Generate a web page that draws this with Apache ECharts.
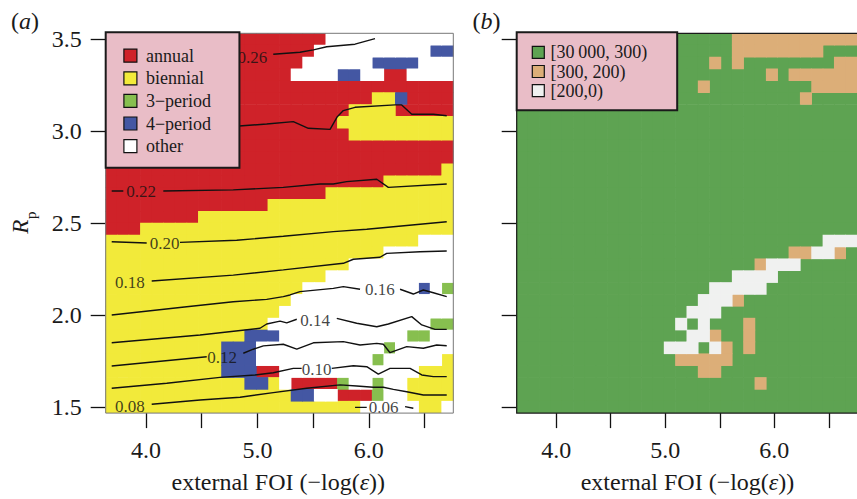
<!DOCTYPE html>
<html>
<head>
<meta charset="utf-8">
<script src="https://cdn.jsdelivr.net/npm/echarts@6/dist/echarts.min.js"></script>
<style>
html,body{margin:0;padding:0;background:#fff;}
#chart{width:857px;height:499px;}
</style>
</head>
<body>
<div id="chart"></div>
<script>
// ---------------- DATA ----------------
// grid cell centres (external FOI, columns) and (R_p, rows bottom -> top)
const xCenters = [3.690,3.794,3.898,4.002,4.106,4.210,4.314,4.418,4.522,4.626,
                  4.730,4.834,4.938,5.042,5.146,5.250,5.354,5.458,5.562,5.666,
                  5.770,5.874,5.978,6.082,6.186,6.290,6.394,6.498,6.602,6.706];
const yCenters = [1.5000,1.5645,1.6290,1.6935,1.7581,1.8226,1.8871,1.9516,2.0161,2.0806,
                  2.1452,2.2097,2.2742,2.3387,2.4032,2.4677,2.5323,2.5968,2.6613,2.7258,
                  2.7903,2.8548,2.9194,2.9839,3.0484,3.1129,3.1774,3.2419,3.3065,3.3710,
                  3.4355,3.5000];

const xTickValues = [4.0, 4.5, 5.0, 5.5, 6.0, 6.5];
const xLabelValues = [4.0, 5.0, 6.0];
const yTickValues = [1.5, 2.0, 2.5, 3.0, 3.5];

// panel (a): periodicity classes
const periodCategories = ['annual', 'biennial', '3\u2212period', '4\u2212period', 'other'];
const periodCodes = ['R', 'Y', 'G', 'B', 'W'];
// rows listed top (R_p = 3.5) to bottom (R_p = 1.5), run-length: code + count
const periodRows = [
  'R19 W11', 'R18 W10 B2', 'R17 W6 B4 W3', 'R16 W4 B2 W2 R2 W4', 'R30',
  'R23 Y2 B1 R4', 'R21 Y4 R5', 'R20 Y10', 'R21 Y9', 'R30',
  'R30', 'R29 Y1', 'R24 Y6', 'R19 Y11', 'R14 Y16',
  'R8 Y22', 'R3 Y27', 'Y27 W3', 'Y24 W6', 'Y21 W9',
  'Y19 W11', 'Y17 W10 B1 W1 G1', 'Y16 W14', 'Y15 W15', 'Y14 W14 G2',
  'Y12 B3 W11 G2 W2', 'Y10 B3 W11 G1 W5', 'Y10 B3 W10 G1 W5 Y1', 'Y10 B3 R2 W12 Y3',
  'Y12 B2 Y1 W1 R4 G1 W2 G1 W2 Y4', 'Y16 B2 W2 R3 G1 W2 Y4', 'Y22 W5 Y2 W1'
];

// panel (b): classes
const sizeCategories = ['[30\u2009000, 300)', '[300, 200)', '[200,0)'];
const sizeCodes = ['A', 'T', 'W'];
const sizeRows = [
  'A19 T11', 'A19 T8 A3', 'A17 T1 A1 T1 A8 T2', 'A22 T1 A1 T6', 'A16 T1 A9 T4',
  'A25 T1 A4', 'A30', 'A30', 'A30', 'A30',
  'A30', 'A30', 'A30', 'A30', 'A30',
  'A30', 'A30', 'A27 W3', 'A24 T2 W2 T1 A1', 'A21 T1 W3 A5',
  'A19 W4 A7', 'A17 W5 A8', 'A16 W3 T1 A10', 'A15 W3 A12', 'A14 W1 A1 W1 A3 T1 A9',
  'A15 W2 T1 A2 T1 A9', 'A13 W3 A1 W1 T1 A1 T1 A9', 'A14 T5 A11', 'A16 T2 A12', 'A21 T1 A8',
  'A30', 'A30'
];

// contour lines of panel (a): [level, segments]
const contourLines = [
  ['0.26', [[[5.142,3.418],[5.382,3.429],[5.502,3.442],[5.622,3.459],[5.876,3.473],[6.055,3.503]]]],
  ['0.24', [[[3.692,2.990],[4.300,3.010],[4.835,3.028],[5.083,3.039],[5.322,3.052],[5.457,3.016],[5.652,3.010],
             [5.717,3.079],[5.771,3.112],[5.876,3.130],[6.235,3.143],[6.295,3.143],[6.385,3.092],[6.579,3.092],[6.699,3.084]]]],
  ['0.22', [[[3.692,2.675],[3.796,2.675]],
            [[4.155,2.675],[4.783,2.681],[5.232,2.695],[5.562,2.713],[5.681,2.713],[5.801,2.726],[6.071,2.739],[6.175,2.695],[6.699,2.713]]]],
  ['0.20', [[[3.692,2.399],[4.006,2.392]],
            [[4.305,2.396],[4.814,2.407],[5.232,2.429],[5.681,2.454],[5.981,2.467],[6.699,2.508]]]],
  ['0.18', [[[4.051,2.186],[4.783,2.218],[5.232,2.246],[5.771,2.282],[5.861,2.304],[6.100,2.315],[6.160,2.336],[6.459,2.345],[6.699,2.349]]]],
  ['0.16', [[[3.692,2.001],[4.365,2.046],[4.783,2.073],[5.083,2.086],[5.232,2.101],[5.292,2.110],[5.382,2.128],[5.681,2.146],[5.771,2.155],[5.921,2.141]],
            [[6.280,2.141],[6.399,2.115],[6.489,2.137],[6.579,2.122],[6.699,2.101]]]],
  ['0.14', [[[3.692,1.850],[4.485,1.892],[5.023,1.929],[5.083,1.952],[5.203,1.968],[5.263,1.958],[5.353,1.978]],
            [[5.712,1.983],[5.891,1.956],[6.071,1.937],[6.175,1.952],[6.385,1.992],[6.475,1.947],[6.594,1.923],[6.699,1.923]]]],
  ['0.12', [[[3.692,1.724],[4.545,1.774]],
            [[4.873,1.793],[4.963,1.815],[5.053,1.833],[5.232,1.842],[5.353,1.815],[5.502,1.850],[5.771,1.856],[5.921,1.838],
             [6.071,1.847],[6.130,1.842],[6.190,1.796],[6.340,1.829],[6.489,1.820],[6.609,1.838],[6.699,1.834]]]],
  ['0.10', [[[3.692,1.603],[4.186,1.630],[4.664,1.662],[4.978,1.675],[5.142,1.687],[5.322,1.711],[5.397,1.711]],
            [[5.667,1.711],[5.861,1.725],[5.981,1.720],[6.085,1.680],[6.190,1.711],[6.370,1.711],[6.475,1.675],[6.579,1.666],[6.699,1.666]]]],
  ['0.08', [[[4.051,1.516],[4.485,1.539],[4.844,1.554],[5.142,1.579],[5.442,1.603],[5.741,1.621],[5.891,1.615],[6.040,1.608],
             [6.130,1.608],[6.220,1.597],[6.340,1.584],[6.489,1.566],[6.699,1.566]]]],
  ['0.06', [[[5.876,1.499],[5.981,1.499]], [[6.325,1.503],[6.399,1.494]]]]
];
// contour label positions [x, y, text]
const contourLabels = [
  [4.955,3.398,'0.26'], [3.955,2.675,'0.22'], [4.166,2.392,'0.20'], [3.856,2.180,'0.18'],
  [6.100,2.137,'0.16'], [5.517,1.971,'0.14'], [4.682,1.772,'0.12'], [5.532,1.707,'0.10'],
  [3.856,1.503,'0.08'], [6.132,1.498,'0.06']
];

// ---------------- STYLE ----------------
const FONT = 'Liberation Serif';
const INK = '#1a1a1a';
const periodColors = ['#cf2229', '#f2ea3a', '#87bf4f', '#4457a3', '#ffffff'];
const sizeColors = ['#5ea352', '#dcae78', '#f0f1f0'];

const G0 = {left: 105.7, top: 33.3, width: 347.6, height: 379.8};
const G1 = {left: 516.7, top: 33.3, width: 347.6, height: 379.8};

const halfX = (xCenters[1] - xCenters[0]) / 2;
const halfY = (yCenters[1] - yCenters[0]) / 2;
const xMin = xCenters[0] - halfX, xMax = xCenters[xCenters.length - 1] + halfX;
const yMin = yCenters[0] - halfY, yMax = yCenters[yCenters.length - 1] + halfY;

function decodeRows(rows, codes) {
  const out = codes.map(() => []);
  rows.forEach((row, k) => {
    const yi = yCenters.length - 1 - k;
    let c = 0;
    row.split(' ').forEach(tok => {
      const code = tok[0], n = parseInt(tok.slice(1), 10);
      const idx = codes.indexOf(code);
      for (let j = 0; j < n; j++) { out[idx].push([xCenters[c], yCenters[yi]]); c++; }
    });
  });
  return out;
}

function renderCell(params, api) {
  const x = api.value(0), y = api.value(1);
  const p0 = api.coord([x - halfX, y + halfY]);
  const p1 = api.coord([x + halfX, y - halfY]);
  return {
    type: 'rect',
    shape: {x: p0[0] - 0.35, y: p0[1] - 0.35, width: p1[0] - p0[0] + 0.7, height: p1[1] - p0[1] + 0.7},
    style: {fill: api.visual('color'), stroke: null}
  };
}

const periodCells = decodeRows(periodRows, periodCodes);
const sizeCells = decodeRows(sizeRows, sizeCodes);

const series = [];
periodCategories.forEach((name, i) => {
  series.push({type: 'custom', name, xAxisIndex: 0, yAxisIndex: 0, data: periodCells[i],
    itemStyle: {color: periodColors[i]}, renderItem: renderCell, clip: true, z: 1, silent: true});
});
sizeCategories.forEach((name, i) => {
  series.push({type: 'custom', name, xAxisIndex: 1, yAxisIndex: 1, data: sizeCells[i],
    itemStyle: {color: sizeColors[i]}, renderItem: renderCell, clip: true, z: 1, silent: true});
});
contourLines.forEach(([level, segs]) => {
  segs.forEach(seg => {
    series.push({type: 'line', name: 'contour ' + level, xAxisIndex: 0, yAxisIndex: 0, data: seg,
      symbol: 'none', smooth: false, silent: true, z: 3,
      lineStyle: {color: '#111', width: 1.4}});
  });
});
series.push({type: 'scatter', name: 'contour labels', xAxisIndex: 0, yAxisIndex: 0,
  data: contourLabels.map(d => ({value: [d[0], d[1]], name: d[2]})),
  symbolSize: 1, itemStyle: {color: 'rgba(0,0,0,0)'}, silent: true, z: 4,
  label: {show: true, position: 'inside', formatter: '{b}', fontSize: 17, fontFamily: FONT, color: '#111'}});

function xAxisCfg(i) {
  return {type: 'value', gridIndex: i, min: xMin, max: xMax,
    axisLine: {show: false}, splitLine: {show: false},
    axisTick: {show: true, length: 15, customValues: xTickValues, lineStyle: {color: '#111', width: 1.3}},
    axisLabel: {show: true, customValues: xLabelValues, formatter: v => v.toFixed(1),
      fontSize: 24, fontFamily: FONT, color: INK, margin: 25}};
}
function yAxisCfg(i, labels) {
  return {type: 'value', gridIndex: i, min: yMin, max: yMax,
    axisLine: {show: false}, splitLine: {show: false},
    axisTick: {show: true, length: 15, customValues: yTickValues, lineStyle: {color: '#111', width: 1.3}},
    axisLabel: {show: labels, customValues: yTickValues, formatter: v => v.toFixed(1),
      fontSize: 24, fontFamily: FONT, color: INK, margin: 24}};
}

const legendCommon = {orient: 'vertical', icon: 'rect', selectedMode: false, z: 10,
  backgroundColor: '#e9bdc7', borderColor: INK, borderWidth: 2, borderRadius: 0,
  itemStyle: {borderColor: '#111', borderWidth: 1.2}};

const option = {
  animation: false,
  grid: [G0, G1],
  xAxis: [xAxisCfg(0), xAxisCfg(1)],
  yAxis: [yAxisCfg(0, true), yAxisCfg(1, false)],
  legend: [
    Object.assign({}, legendCommon, {data: periodCategories, left: 105.7, top: 32.3,
      padding: [14.4, 28.4, 12.6, 17.6], itemWidth: 13, itemHeight: 13, itemGap: 4.6,
      textStyle: {fontSize: 18, fontFamily: FONT, color: INK, lineHeight: 18, padding: [0, 0, 0, 4]}}),
    Object.assign({}, legendCommon, {data: sizeCategories, left: 516.7, top: 32.3,
      padding: [11, 30, 10.6, 15], itemWidth: 12, itemHeight: 12, itemGap: 1.2,
      textStyle: {fontSize: 18, fontFamily: FONT, color: INK, lineHeight: 18, padding: [0, 0, 0, 1.3]}})
  ],
  graphic: [
    {type: 'rect', silent: true, z: 5, shape: {x: G0.left, y: G0.top, width: G0.width, height: G0.height},
      style: {fill: 'none', stroke: '#777', lineWidth: 1}},
    {type: 'rect', silent: true, z: 5, shape: {x: G1.left, y: G1.top, width: G1.width, height: G1.height},
      style: {fill: 'none', stroke: INK, lineWidth: 1.2}},
    {type: 'text', z: 5, x: 278.3, y: 482, style: {text: 'external FOI (\u2212log({i|\u03b5}))',
      fontSize: 24, fontFamily: FONT, fill: INK, align: 'center', verticalAlign: 'middle',
      rich: {i: {fontStyle: 'italic', fontSize: 24, fontFamily: FONT, fill: INK}}}},
    {type: 'text', z: 5, x: 687.5, y: 482, style: {text: 'external FOI (\u2212log({i|\u03b5}))',
      fontSize: 24, fontFamily: FONT, fill: INK, align: 'center', verticalAlign: 'middle',
      rich: {i: {fontStyle: 'italic', fontSize: 24, fontFamily: FONT, fill: INK}}}},
    {type: 'text', z: 5, x: 11, y: 20.8, style: {text: '({i|a})', fontSize: 24, fontFamily: FONT, fill: INK,
      align: 'left', verticalAlign: 'middle', rich: {i: {fontStyle: 'italic', fontSize: 24, fontFamily: FONT, fill: INK}}}},
    {type: 'text', z: 5, x: 472.5, y: 20.8, style: {text: '({i|b})', fontSize: 24, fontFamily: FONT, fill: INK,
      align: 'left', verticalAlign: 'middle', rich: {i: {fontStyle: 'italic', fontSize: 24, fontFamily: FONT, fill: INK}}}},
    {type: 'text', z: 5, x: 20.9, y: 226.7, rotation: Math.PI / 2, style: {text: 'R', fontSize: 23, fontStyle: 'italic',
      fontFamily: FONT, fill: INK, align: 'center', verticalAlign: 'middle'}},
    {type: 'text', z: 5, x: 30.5, y: 215.3, rotation: Math.PI / 2, style: {text: 'p', fontSize: 15,
      fontFamily: FONT, fill: INK, align: 'center', verticalAlign: 'middle'}}
  ],
  series
};

const chart = echarts.init(document.getElementById('chart'), null, {renderer: 'svg'});
chart.setOption(option);
</script>
</body>
</html>
